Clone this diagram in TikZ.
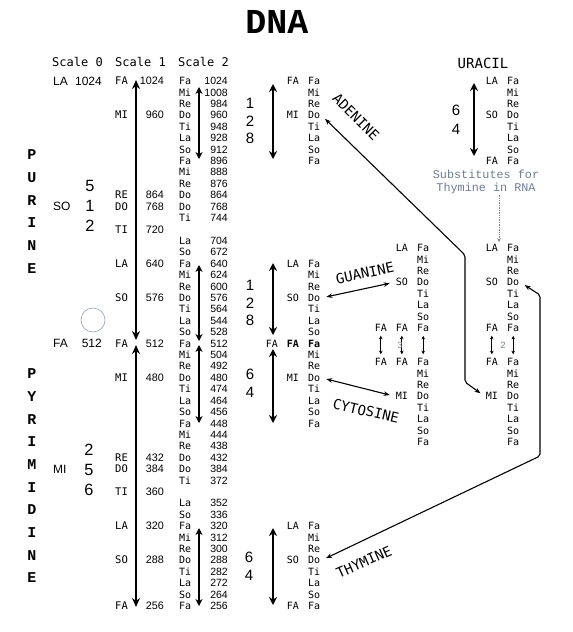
\documentclass[tikz,border=0pt]{standalone}
\usepackage{fontspec}
\setmainfont{Liberation Sans}
\newfontfamily\dnamono{DejaVu Sans Mono}
\newfontfamily\dnatype{Liberation Mono}
\usetikzlibrary{positioning,arrows.meta}
\definecolor{DNAInk}{HTML}{000000}
\definecolor{DNANote}{HTML}{6E7C96}
\definecolor{DNARing}{HTML}{95A2BE}

\begin{document}
\begin{tikzpicture}[x=1pt,y=-1pt,>={Stealth[length=6pt,width=4.5pt]}]
  \tikzstyle{note}=[font=\dnamono\fontsize{10}{12}\selectfont,inner sep=1pt,anchor=base west]
  \tikzstyle{lab}=[font=\dnamono\fontsize{10}{12}\selectfont,inner sep=1pt,anchor=base east]
  \tikzstyle{num}=[font=\fontsize{10.5}{12}\selectfont,inner sep=1pt,anchor=base east]
  \tikzstyle{zero}=[font=\fontsize{12}{14}\selectfont,inner sep=1pt]
  \tikzstyle{digits}=[font=\fontsize{15}{17.8}\selectfont,align=center,inner sep=0pt]
  \tikzstyle{tag}=[font=\dnamono\fontsize{14}{16}\selectfont,inner sep=1pt]
  \tikzstyle{bigword}=[font=\dnatype\bfseries\fontsize{15}{22.65}\selectfont,align=center,inner sep=0pt]
  \tikzstyle{spine}=[line width=2.6pt,{Stealth[length=9pt,width=8pt]}-{Stealth[length=9pt,width=8pt]}]
  \tikzstyle{span}=[line width=2pt,{Stealth[length=7pt,width=7pt]}-{Stealth[length=7pt,width=7pt]}]
  \tikzstyle{bar}=[line width=2.6pt,{Stealth[length=8pt,width=8pt]}-{Stealth[length=8pt,width=8pt]}]
  \tikzstyle{link}=[line width=1.1pt,<->,rounded corners=2pt,shorten <=5pt,shorten >=5pt]
  \tikzstyle{hop}=[line width=0.7pt,{Stealth[length=3.5pt,width=3.5pt]}-{Stealth[length=3.5pt,width=3.5pt]},shorten <=3pt,shorten >=3pt]

  \useasboundingbox (0,0) rectangle (573,632);

  \node[font=\dnatype\bfseries\fontsize{35}{40}\selectfont] (title) at (277,22) {DNA};
  \node[bigword] (purine) at (32,211.5) {P\\U\\R\\I\\N\\E};
  \node[bigword,font=\dnatype\bfseries\fontsize{15}{22.67}\selectfont] (pyrimidine) at (32,476) {P\\Y\\R\\I\\M\\I\\D\\I\\N\\E};

  \node[font=\dnamono\fontsize{12}{14}\selectfont,anchor=base west,inner sep=0] (head0) at (52,66.4) {Scale 0};
  \node[font=\dnamono\fontsize{12}{14}\selectfont,anchor=base west,inner sep=0] (head1) at (115,66.4) {Scale 1};
  \node[font=\dnamono\fontsize{12}{14}\selectfont,anchor=base west,inner sep=0] (head2) at (178,66.4) {Scale 2};

  \foreach \row/\lb/\val in {0/LA/1024,23/FA/512}{
    \pgfmathsetmacro{\yy}{85.3+11.41*\row}
    \node[zero,anchor=base west] (zl\row) at (52,\yy) {\lb};
    \node[zero,anchor=base east] (zv\row) at (103,\yy) {\val};
  }
  \node[zero,anchor=base west] (zl11) at (52,{85.3+11.41*11}) {SO};
  \node[zero,anchor=base west] (zl34) at (52,{85.3+11.41*34}) {MI};
  \node[digits,font=\fontsize{16.3}{20}\selectfont] (five) at (90,205.8) {5\\1\\2};
  \node[digits,font=\fontsize{16.3}{20}\selectfont] (two) at (89,469.6) {2\\5\\6};
  \node[circle,draw=DNARing,line width=0.6pt,minimum size=24pt,inner sep=0] (ring) at (93,320) {};

  \foreach \row/\lb/\val in {0/FA/1024,3/MI/960,10/RE/864,11/DO/768,13/TI/720,16/LA/640,19/SO/576,23/FA/512,26/MI/480,33/RE/432,34/DO/384,36/TI/360,39/LA/320,42/SO/288,46/FA/256}{
    \pgfmathsetmacro{\yy}{84.7+11.41*\row}
    \node[note,font=\dnamono\fontsize{10.5}{12}\selectfont] (ol\row) at (114,\yy) {\lb};
    \node[num,font=\fontsize{10.8}{12}\selectfont] (ov\row) at (165,\yy) {\val};
  }

  \foreach \row/\nt/\val in {0/Fa/1024,1/Mi/1008,2/Re/984,3/Do/960,4/Ti/948,5/La/928,6/So/912,7/Fa/896,8/Mi/888,9/Re/876,10/Do/864,11/Do/768,12/Ti/744,14/La/704,15/So/672,16/Fa/640,17/Mi/624,18/Re/600,19/Do/576,20/Ti/564,21/La/544,22/So/528,23/Fa/512,24/Mi/504,25/Re/492,26/Do/480,27/Ti/474,28/La/464,29/So/456,30/Fa/448,31/Mi/444,32/Re/438,33/Do/432,34/Do/384,35/Ti/372,37/La/352,38/So/336,39/Fa/320,40/Mi/312,41/Re/300,42/Do/288,43/Ti/282,44/La/272,45/So/264,46/Fa/256}{
    \pgfmathsetmacro{\yy}{84.7+11.41*\row}
    \node[note] (tn\row) at (178,\yy) {\nt};
    \node[num] (tv\row) at (229,\yy) {\val};
  }

  \coordinate (s1a) at (136,80);  \coordinate (s1b) at (136,340);
  \coordinate (s1c) at (136,345); \coordinate (s1d) at (136,607);
  \draw[spine] (s1a) -- (s1b);
  \draw[spine] (s1c) -- (s1d);

  \coordinate (s2a) at (199,87);  \coordinate (s2b) at (199,159);
  \coordinate (s2c) at (199,265); \coordinate (s2d) at (199,341);
  \coordinate (s2e) at (199,345); \coordinate (s2f) at (199,423);
  \coordinate (s2g) at (199,528); \coordinate (s2h) at (199,606);
  \draw[span] (s2a) -- (s2b);
  \draw[span] (s2c) -- (s2d);
  \draw[span] (s2e) -- (s2f);
  \draw[span] (s2g) -- (s2h);

  \foreach \row/\nt in {0/Fa,1/Mi,2/Re,3/Do,4/Ti,5/La,6/So,7/Fa}{
    \pgfmathsetmacro{\yy}{84.7+11.41*\row}
    \node[note] (an\row) at (307,\yy) {\nt};
    \node[note] (un\row) at (506,\yy) {\nt};
  }
  \foreach \row/\nt in {16/Fa,17/Mi,18/Re,19/Do,20/Ti,21/La,22/So,24/Mi,25/Re,26/Do,27/Ti,28/La,29/So,30/Fa}{
    \pgfmathsetmacro{\yy}{84.7+11.41*\row}
    \node[note] (gn\row) at (307,\yy) {\nt};
  }
  \foreach \row/\nt in {39/Fa,40/Mi,41/Re,42/Do,43/Ti,44/La,45/So,46/Fa}{
    \pgfmathsetmacro{\yy}{84.7+11.41*\row}
    \node[note] (hn\row) at (307,\yy) {\nt};
  }
  \node[note,font=\dnamono\bfseries\fontsize{10}{12}\selectfont] (gn23) at (307,{84.7+11.41*23}) {Fa};
  \node[lab,font=\dnamono\bfseries\fontsize{10}{12}\selectfont] (gl23) at (300,{84.7+11.41*23}) {FA};
  \node[lab] (gx23) at (279,{84.7+11.41*23}) {FA};
  \foreach \row/\lb in {0/FA,3/MI,16/LA,19/SO,26/MI,39/LA,42/SO,46/FA}{
    \pgfmathsetmacro{\yy}{84.7+11.41*\row}
    \node[lab] (al\row) at (300,\yy) {\lb};
  }
  \foreach \row/\lb in {0/LA,3/SO,7/FA}{
    \pgfmathsetmacro{\yy}{84.7+11.41*\row}
    \node[lab] (ul\row) at (499,\yy) {\lb};
  }

  \node[digits,font=\fontsize{15}{17.7}\selectfont] (ade) at (250,121) {1\\2\\8};
  \node[digits] (gua) at (250,303) {1\\2\\8};
  \node[digits,font=\fontsize{15}{18}\selectfont] (cyt) at (250,383.5) {6\\4};
  \node[digits,font=\fontsize{15}{18}\selectfont] (thy) at (249,566) {6\\4};
  \node[digits,font=\fontsize{15}{18.3}\selectfont] (ura) at (456,119.7) {6\\4};

  \coordinate (ba) at (273,84);  \coordinate (bb) at (273,159);
  \coordinate (bc) at (273,263); \coordinate (bd) at (273,335);
  \coordinate (be) at (273,349); \coordinate (bf) at (273,423);
  \coordinate (bg) at (273,528); \coordinate (bh) at (273,605);
  \coordinate (bu) at (474,83);  \coordinate (bv) at (474,156);
  \draw[bar] (ba) -- (bb);
  \draw[bar] (bc) -- (bd);
  \draw[bar] (be) -- (bf);
  \draw[bar] (bg) -- (bh);
  \draw[bar] (bu) -- (bv);

  \foreach \k/\nt in {0/Fa,1/Mi,2/Re,3/Do,4/Ti,5/La,6/So,7/Fa,8/Fa,9/Mi,10/Re,11/Do,12/Ti,13/La,14/So,15/Fa}{
    \pgfmathsetmacro{\yy}{\k<8 ? 251.7+11.4*\k : 274.5+11.4*\k}
    \node[note] (mn\k) at (416,\yy) {\nt};
    \node[note] (rn\k) at (506,\yy) {\nt};
  }
  \foreach \k/\lb in {0/LA,3/SO,7/FA,8/FA,11/MI}{
    \pgfmathsetmacro{\yy}{\k<8 ? 251.7+11.4*\k : 274.5+11.4*\k}
    \node[lab] (ml\k) at (409,\yy) {\lb};
    \node[lab] (rl\k) at (499,\yy) {\lb};
  }
  \node[lab] (mx7) at (388,331.5) {FA};
  \node[lab] (mx8) at (388,365.7) {FA};

  \draw[hop] (mx7.south) -- (mx8.north);
  \draw[hop] (ml7.south) -- (ml8.north);
  \draw[hop] (mn7.south) -- (mn8.north);
  \draw[hop] (rl7.south) -- (rl8.north);
  \draw[hop] (rn7.south) -- (rn8.north);
  \node[font=\fontsize{9}{10}\selectfont,text=DNANote,inner sep=0] (three) at (400,345) {3};
  \node[font=\fontsize{9}{10}\selectfont,text=DNANote,inner sep=0] (twice) at (503,345) {2};

  \node[tag] (uracil) at (483,63) {URACIL};
  \node[font=\dnatype\fontsize{11.8}{13}\selectfont,text=DNANote,align=center,inner sep=1pt] (subst) at (486,181.5) {Substitutes for\\Thymine in RNA};
  \draw[densely dotted,line width=0.7pt,draw=gray,-{Stealth[length=4pt,width=3.5pt]},shorten >=1pt] (subst.south -| rl0.north east) -- (rl0.north east);

  \node[tag,rotate=-45] (adenine) at (356,117) {ADENINE};
  \node[tag,rotate=12] (guanine) at (365,273) {GUANINE};
  \node[tag,rotate=-13] (cytosine) at (366,411) {CYTOSINE};
  \node[tag,rotate=24] (thymine) at (364,562) {THYMINE};

  \coordinate (adbend1) at (465,255);
  \coordinate (adbend2) at (465,382);
  \coordinate (thbend1) at (540,456);
  \coordinate (thbend2) at (540,295);
  \draw[link] (an3.east) -- (adbend1) -- (adbend2) -- (rl11.west);
  \draw[link] (gn19.east) -- (ml3.west);
  \draw[link] (gn26.east) -- (ml11.west);
  \draw[link] (hn42.east) -- (thbend1) -- (thbend2) -- (rn3.east);
\end{tikzpicture}
\end{document}
